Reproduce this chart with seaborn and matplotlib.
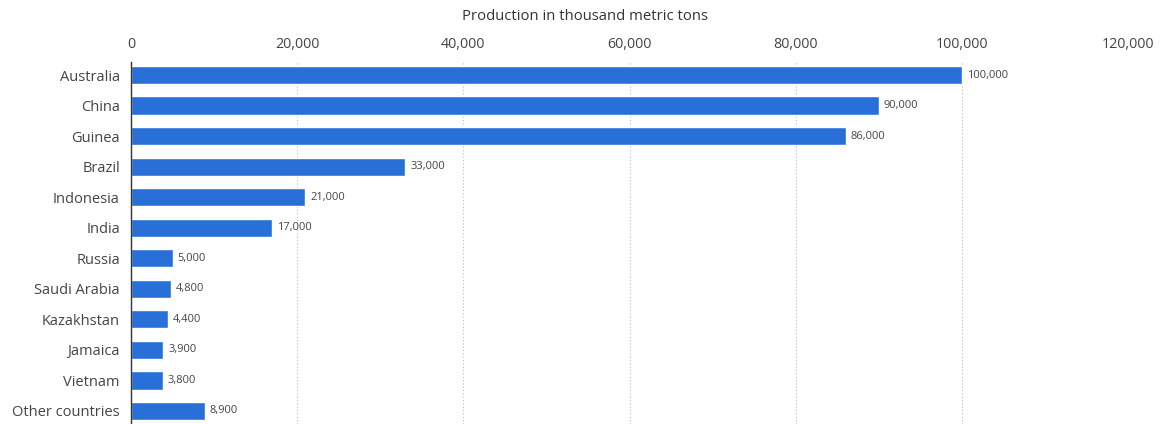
import matplotlib
matplotlib.use("Agg")
import matplotlib.pyplot as plt
import seaborn as sns
import pandas as pd

countries = ["Australia", "China", "Guinea", "Brazil", "Indonesia", "India",
             "Russia", "Saudi Arabia", "Kazakhstan", "Jamaica", "Vietnam",
             "Other countries"]
production = [100000, 90000, 86000, 33000, 21000, 17000,
              5000, 4800, 4400, 3900, 3800, 8900]
x_ticks = [0, 20000, 40000, 60000, 80000, 100000, 120000]

df = pd.DataFrame({"Country": countries, "Production": production})

sns.set_theme(style="white")
plt.rcParams["font.family"] = ["Open Sans", "DejaVu Sans"]

fig = plt.figure(figsize=(11.61, 4.24), dpi=100)
ax = fig.add_axes([131 / 1161, 0.0, (1128 - 131) / 1161, 1 - 62 / 424])

sns.barplot(data=df, x="Production", y="Country", color="#2870d8",
            width=0.6, ax=ax, saturation=1)

ax.set_xlim(0, 120000)
ax.set_ylim(11.43, -0.43)
ax.set_xticks(x_ticks)
ax.set_xticklabels([f"{t:,}" for t in x_ticks], fontsize=10.3, color="#444444")
ax.xaxis.tick_top()
ax.xaxis.set_label_position("top")
ax.set_xlabel("Production in thousand metric tons", fontsize=10.7,
              color="#333333")
ax.xaxis.set_label_coords((585 - 131) / 997, 1 + (62 - 16) / 362, transform=ax.transAxes)
ax.xaxis.label.set_va("center")
ax.set_ylabel("")
ax.tick_params(axis="x", length=0, pad=7)
ax.tick_params(axis="y", length=0, pad=8, labelsize=10.5, labelcolor="#444444")

ax.grid(axis="x", linestyle=(0, (1, 2)), color="#bbbbbb", linewidth=0.8)
ax.set_axisbelow(True)
for s in ["top", "right", "bottom"]:
    ax.spines[s].set_visible(False)
ax.spines["left"].set_color("#333333")
ax.spines["left"].set_linewidth(1.0)

for i, v in enumerate(production):
    ax.text(v + 600, i, f"{v:,}", va="center", ha="left", fontsize=8,
            color="#444444")

fig.savefig("out.png", dpi=100)
